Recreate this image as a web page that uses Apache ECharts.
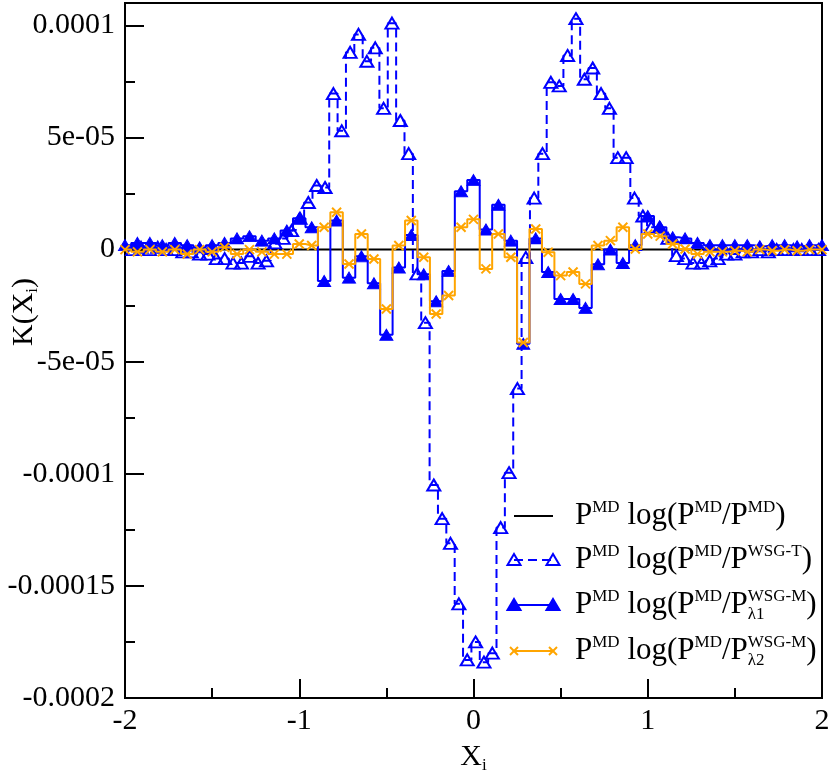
<!DOCTYPE html>
<html>
<head>
<meta charset="utf-8">
<script src="https://cdn.jsdelivr.net/npm/echarts@6/dist/echarts.min.js"></script>
<style>
html, body { margin: 0; padding: 0; background: #fff; }
#main { width: 830px; height: 777px; }
</style>
</head>
<body>
<div id="main"></div>
<script>
// bin grids: WSG-T histogram and the two WSG-M histograms
var xT0 = -1.956, xTStep = 0.048;
var xM0 = -2, xMStep = 4 / 56;

// K(X_i) values, in units of 1e-5
var kT = [0.0, 0.1, 0.0, 0.1, 0.0, 0.0, -0.1, -0.1, -0.2, -0.2,
          -0.4, -0.4, -0.6, -0.6, -0.3, -0.6, -0.5, 0.3, 0.5, 0.85,
          1.4, 2.1, 2.86, 2.77, 6.96, 5.3, 8.8, 9.6, 8.4, 9.0,
          6.3, 10.1, 5.76, 4.28, -1.08, -3.26, -10.5, -12.0, -13.1, -15.8,
          -18.3, -17.5, -18.4, -18.0, -12.4, -9.95, -6.2, -0.35, 2.3, 4.28,
          7.46, 7.3, 8.66, 10.3, 7.6, 8.1, 6.96, 6.3, 4.1, 4.1,
          2.3, 1.5, 1.0, 1.0, 0.5, -0.27, -0.4, -0.6, -0.6, -0.5,
          -0.4, -0.2, -0.2, -0.1, -0.1, 0.0, -0.1, 0.0, 0.0, 0.0,
          0.0, 0.0, 0.0];
var kL1 = [0.2, 0.3, 0.3, 0.2, 0.3, 0.2, 0.1, 0.2, 0.3, 0.5,
           0.6, 0.4, 0.5, 0.85, 1.4, 1.0, -1.4, 1.3, -1.25, -0.3,
           -1.5, -3.8, -0.8, 0.65, -1.1, -2.3, -0.95, 2.6, 3.1, 0.9,
           2.0, 0.4, -4.2, 0.5, -1.0, -2.2, -2.2, -2.6, -0.65, 0.0,
           -0.6, 0.2, 1.5, 1.0, 0.55, 0.5, 0.3, 0.2, 0.2, 0.2,
           0.2, 0.15, 0.2, 0.2, 0.15, 0.2, 0.2];
var kL2 = [0.0, -0.1, 0.0, -0.1, 0.0, -0.2, 0.0, -0.1, 0.1, -0.2,
           0.0, -0.1, -0.2, -0.2, 0.25, 0.18, 1.0, 1.67, -0.64, 0.7,
           -0.42, -2.65, 0.18, 1.3, -0.34, -2.87, -2.05, 1.0, 1.35, -0.86,
           0.7, -0.34, -4.14, 0.92, -0.12, -1.16, -1.0, -1.53, 0.18, 0.4,
           1.0, 0.03, 0.7, 0.6, 0.25, 0.03, -0.2, -0.1, -0.1, -0.05,
           -0.1, 0.0, -0.05, 0.0, -0.05, 0.0, 0.0];
var zeroX = [-2, 2];
var kMD = [0, 0];

var yTicks = [-20, -15, -10, -5, 0, 5, 10];
var yTickLabels = ['-0.0002', '-0.00015', '-0.0001', '-5e-05', '0', '5e-05', '0.0001'];
var yMinorTicks = [-17.5, -12.5, -7.5, -2.5, 2.5, 7.5];

var serif = "'Liberation Serif', 'DejaVu Serif', serif";
var blue = '#0000ff', orange = '#ffa500';

function pairs(x0, dx, vals) {
    return vals.map(function (v, i) { return [+(x0 + i * dx).toFixed(4), v]; });
}

var myChart = echarts.init(document.getElementById('main'));

// legend drawn by hand: line with a symbol at each end, text with super/subscripts
var ctx = document.createElement('canvas').getContext('2d');
function tw(s, size) { ctx.font = size + 'px ' + serif; return ctx.measureText(s).width; }

var legRich = {
    b: { fontSize: 31, fontFamily: serif, color: '#000', lineHeight: 34 },
    p: { fontSize: 17, fontFamily: serif, color: '#000', lineHeight: 20, verticalAlign: 'top' }
};
var legRows = [
    { y: 516, sup: 'MD', sub: '', kind: 'md' },
    { y: 560, sup: 'WSG-T', sub: '', kind: 't' },
    { y: 605, sup: 'WSG-M', sub: '\u03bb1', kind: 'l1' },
    { y: 651, sup: 'WSG-M', sub: '\u03bb2', kind: 'l2' }
];
var graphics = [];
function tri(x, y, filled) {
    return { type: 'polygon', z: 100, shape: { points: [[x, y - 6], [x + 6.5, y + 5], [x - 6.5, y + 5]] },
             style: { fill: filled ? blue : 'none', stroke: blue, lineWidth: 2 } };
}
function cross(x, y) {
    return [
        { type: 'line', z: 100, shape: { x1: x - 4, y1: y - 4, x2: x + 4, y2: y + 4 }, style: { stroke: orange, lineWidth: 2 } },
        { type: 'line', z: 100, shape: { x1: x + 4, y1: y - 4, x2: x - 4, y2: y + 4 }, style: { stroke: orange, lineWidth: 2 } }
    ];
}
legRows.forEach(function (r) {
    var x1 = 514, x2 = 553, tx = 575;
    var col = r.kind === 'md' ? '#000' : (r.kind === 'l2' ? orange : blue);
    graphics.push({ type: 'line', z: 100, shape: { x1: x1, y1: r.y, x2: x2, y2: r.y },
        style: { stroke: col, lineWidth: 2, lineDash: r.kind === 't' ? [9, 5] : null } });
    if (r.kind === 't' || r.kind === 'l1') {
        graphics.push(tri(x1, r.y, r.kind === 'l1'), tri(x2, r.y, r.kind === 'l1'));
    } else if (r.kind === 'l2') {
        graphics = graphics.concat(cross(x1, r.y), cross(x2, r.y));
    }
    graphics.push({ type: 'text', z: 100, x: tx, y: r.y,
        style: { text: '{b|P}{p|MD}{b| log(P}{p|MD}{b|/P}{p|' + r.sup + '}{b|)}',
                 rich: legRich, verticalAlign: 'middle', align: 'left' } });
    if (r.sub) {
        var off = tw('P', 31) + tw('MD', 17) + tw(' log(P', 31) + tw('MD', 17) + tw('/P', 31);
        graphics.push({ type: 'text', z: 100, x: tx + off, y: r.y + 10,
            style: { text: r.sub, fontSize: 17, fontFamily: serif, fill: '#000', verticalAlign: 'middle', align: 'left' } });
    }
});

// y-axis title K(X_i), rotated, kept clear of the tick labels
graphics.push({ type: 'text', z: 100, x: 24, y: 312, rotation: Math.PI / 2,
    style: { text: '{n|K(X}{s|i}{n|)}', align: 'center', verticalAlign: 'middle',
             rich: {
                 n: { fontSize: 30, fontFamily: serif, fill: '#000', lineHeight: 34 },
                 s: { fontSize: 17, fontFamily: serif, fill: '#000', lineHeight: 10, verticalAlign: 'bottom' }
             } } });

var axisRich = {
    n: { fontSize: 30, fontFamily: serif, color: '#000', lineHeight: 34 },
    s: { fontSize: 17, fontFamily: serif, color: '#000', lineHeight: 10, verticalAlign: 'bottom' }
};

option = {
    animation: false,
    grid: { left: 125, right: 8, top: 3, bottom: 79, show: true, borderColor: '#000', borderWidth: 2,
            outerBoundsMode: 'none' },
    xAxis: {
        type: 'value', min: -2, max: 2, interval: 1,
        axisLine: { onZero: false, lineStyle: { color: '#000', width: 2 } },
        axisTick: { inside: true, length: 19, lineStyle: { color: '#000', width: 2 } },
        minorTick: { show: true, splitNumber: 2, length: 10, lineStyle: { color: '#000', width: 2 } },
        splitLine: { show: false },
        axisLabel: { fontSize: 30, fontFamily: serif, color: '#000', margin: 8 },
        name: '{n|X}{s|i}', nameLocation: 'middle', nameGap: 42,
        nameTextStyle: { rich: axisRich }
    },
    yAxis: [{
        type: 'value', min: -20, max: 11,
        axisLine: { onZero: false, lineStyle: { color: '#000', width: 2 } },
        axisTick: { inside: true, length: 19, customValues: yTicks, lineStyle: { color: '#000', width: 2 } },
        splitLine: { show: false },
        axisLabel: {
            customValues: yTicks, fontSize: 30, fontFamily: serif, color: '#000', margin: 10,
            formatter: function (v) { var i = yTicks.indexOf(v); return i >= 0 ? yTickLabels[i] : ''; }
        }
    }, {
        type: 'value', min: -20, max: 11, position: 'left',
        axisLine: { show: false, onZero: false },
        axisTick: { inside: true, length: 10, customValues: yMinorTicks, lineStyle: { color: '#000', width: 2 } },
        axisLabel: { show: false },
        splitLine: { show: false }
    }],
    graphic: graphics,
    series: [
        {
            name: 'MD', type: 'line', z: 1, data: pairs(zeroX[0], zeroX[1] - zeroX[0], kMD),
            symbol: 'none', lineStyle: { color: '#000', width: 2 }
        },
        {
            name: 'WSG-T', type: 'line', z: 2, step: 'middle', data: pairs(xT0, xTStep, kT),
            symbol: 'triangle', symbolSize: [13, 11], showAllSymbol: true,
            itemStyle: { color: 'rgba(0,0,0,0)', borderColor: blue, borderWidth: 2 },
            lineStyle: { color: blue, width: 2, type: [9, 5] }
        },
        {
            name: 'WSG-M l1', type: 'line', z: 3, step: 'middle', data: pairs(xM0, xMStep, kL1),
            symbol: 'triangle', symbolSize: [13, 11], showAllSymbol: true,
            itemStyle: { color: blue, borderColor: blue, borderWidth: 1 },
            lineStyle: { color: blue, width: 2 }
        },
        {
            name: 'WSG-M l2', type: 'line', z: 4, step: 'middle', data: pairs(xM0, xMStep, kL2),
            symbol: 'path://M0,0L10,10M10,0L0,10', symbolSize: 9, showAllSymbol: true,
            itemStyle: { color: orange, borderColor: orange, borderWidth: 2 },
            lineStyle: { color: orange, width: 2 }
        }
    ]
};

myChart.setOption(option);
</script>
</body>
</html>
